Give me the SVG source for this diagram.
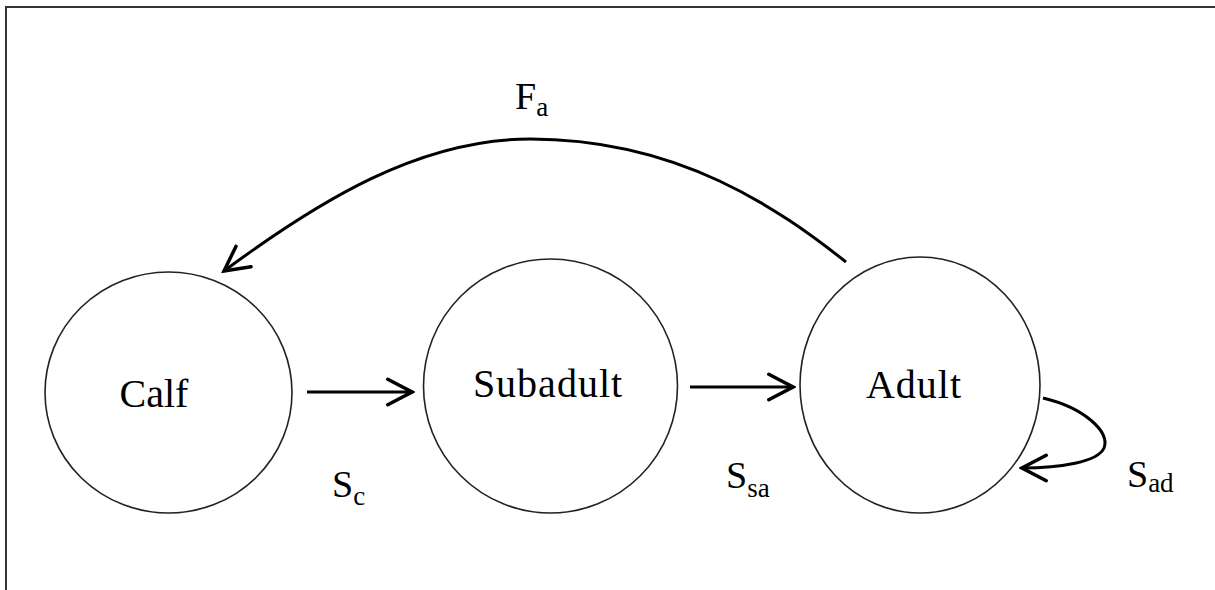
<svg xmlns="http://www.w3.org/2000/svg" width="1215" height="590" viewBox="0 0 1215 590">
  <style>
    .node { fill: #fff; stroke: #222; stroke-width: 1.6; }
    .lbl { font-family: "Liberation Serif", "Times New Roman", serif; font-size: 40px; fill: #000; }
    .sym { font-family: "Liberation Serif", "Times New Roman", serif; font-size: 38px; fill: #000; }
    .sub { font-size: 27px; }
    .edge { fill: none; stroke: #000; stroke-width: 3; marker-end: url(#arr); }
  </style>
  <defs>
    <marker id="arr" markerUnits="userSpaceOnUse" markerWidth="30" markerHeight="30" viewBox="0 0 26 26" refX="23" refY="13" orient="auto">
      <path d="M 2 2 L 23 13 L 2 24" fill="none" stroke="#000" stroke-width="3" stroke-linecap="round" stroke-linejoin="miter"/>
    </marker>
  </defs>
  <rect width="1215" height="590" fill="#fff"/>
  <path d="M 6 590 L 6 7 L 1215 7" fill="none" stroke="#333" stroke-width="2"/>

  <g id="calf">
    <ellipse class="node" cx="168.5" cy="392.5" rx="123.5" ry="120.5"/>
    <text class="lbl" x="154" y="407" text-anchor="middle">Calf</text>
  </g>
  <g id="subadult">
    <ellipse class="node" cx="550.5" cy="386" rx="127" ry="127"/>
    <text class="lbl" x="548" y="397" text-anchor="middle" letter-spacing="1">Subadult</text>
  </g>
  <g id="adult">
    <ellipse class="node" cx="920" cy="385" rx="120" ry="128"/>
    <text class="lbl" x="914" y="398" text-anchor="middle" letter-spacing="1">Adult</text>
  </g>

  <g id="connectors">
    <path class="edge" d="M 307 392 L 412 392"/>
    <path class="edge" d="M 690 387 L 793 387"/>
    <path class="edge" d="M 846 262 C 780 210, 680 139, 530 139 C 420 139, 320 200, 224 271"/>
    <path class="edge" d="M 1043 398 C 1085 408, 1110 432, 1104 448 C 1098 462, 1060 468, 1022 468"/>
  </g>

  <g id="labels">
    <text class="sym" x="515" y="109">F<tspan class="sub" dy="7">a</tspan></text>
    <text class="sym" x="332" y="497">S<tspan class="sub" dy="8">c</tspan></text>
    <text class="sym" x="726" y="488">S<tspan class="sub" dy="9">sa</tspan></text>
    <text class="sym" x="1127" y="487">S<tspan class="sub" dy="5">ad</tspan></text>
  </g>
</svg>
